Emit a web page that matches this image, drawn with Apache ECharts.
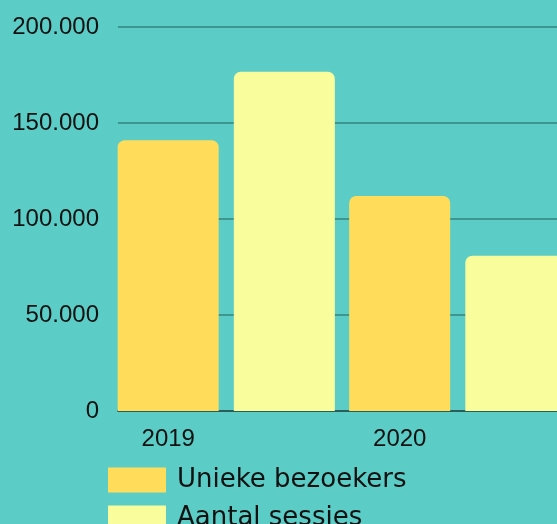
<!DOCTYPE html>
<html>
<head>
<meta charset="utf-8">
<script src="https://cdn.jsdelivr.net/npm/echarts@6/dist/echarts.min.js"></script>
<style>
  html, body { margin: 0; padding: 0; overflow: hidden; background: #5bcdc6; }
  #main { width: 600px; height: 524px; }
</style>
</head>
<body>
<div id="main"></div>
<script>
// data
var years = ['2019', '2020'];
var uniekeBezoekers = [141000, 112000];
var aantalSessies = [176700, 80900];
var seriesNames = ['Unieke bezoekers', 'Aantal sessies'];
var yTicks = [0, 50000, 100000, 150000, 200000];

var chart = echarts.init(document.getElementById('main'));

function fmt(v) {
    // dutch thousands separator
    return String(v).replace(/\B(?=(\d{3})+(?!\d))/g, '.');
}

var option = {
    backgroundColor: '#5bcdc6',
    animation: false,
    grid: [
        // bars
        { left: 110.5, right: 26.5, top: 27, bottom: 113 },
        // gridlines + axis line only
        { left: 118, right: 26.5, top: 27, bottom: 113 }
    ],
    legend: {
        orient: 'vertical',
        left: 108,
        top: 467,
        height: 200,
        padding: 0,
        itemWidth: 58,
        itemHeight: 25,
        itemGap: 12,
        icon: 'rect',
        textStyle: {
            fontFamily: 'DejaVu Sans',
            fontSize: 26,
            lineHeight: 25,
            color: '#111',
            padding: [0, 0, 0, 6]
        },
        data: seriesNames
    },
    xAxis: [
        {
            type: 'category',
            gridIndex: 0,
            data: years,
            axisLine: { show: false },
            axisTick: { show: false },
            axisLabel: {
                fontFamily: 'Liberation Sans',
                fontSize: 24,
                color: '#111',
                margin: 16,
                padding: [0, 116, 0, 0]
            }
        },
        {
            type: 'value',
            gridIndex: 1,
            min: 0,
            max: 1,
            axisLine: { show: true, lineStyle: { color: '#2b5e5b', width: 2 } },
            axisTick: { show: false },
            axisLabel: { show: false },
            splitLine: { show: false }
        }
    ],
    yAxis: [
        {
            type: 'value',
            gridIndex: 0,
            min: yTicks[0],
            max: yTicks[yTicks.length - 1],
            interval: yTicks[1] - yTicks[0],
            axisLine: { show: false },
            axisTick: { show: false },
            splitLine: { show: false },
            axisLabel: {
                fontFamily: 'Liberation Sans',
                fontSize: 24,
                color: '#111',
                margin: 11.5,
                formatter: fmt
            }
        },
        {
            type: 'value',
            gridIndex: 1,
            min: yTicks[0],
            max: yTicks[yTicks.length - 1],
            interval: yTicks[1] - yTicks[0],
            axisLine: { show: false },
            axisTick: { show: false },
            axisLabel: { show: false },
            splitLine: { show: true, lineStyle: { color: '#3e9691', width: 2 } }
        }
    ],
    series: [
        {
            name: seriesNames[0],
            type: 'bar',
            xAxisIndex: 0,
            yAxisIndex: 0,
            barWidth: 101,
            barGap: '15%',
            data: uniekeBezoekers,
            itemStyle: { color: '#ffdc5a', borderRadius: [7, 7, 0, 0] }
        },
        {
            name: seriesNames[1],
            type: 'bar',
            xAxisIndex: 0,
            yAxisIndex: 0,
            barWidth: 101,
            barGap: '15%',
            data: aantalSessies,
            itemStyle: { color: '#fafd9b', borderRadius: [7, 7, 0, 0] }
        }
    ]
};

chart.setOption(option);
</script>
</body>
</html>
